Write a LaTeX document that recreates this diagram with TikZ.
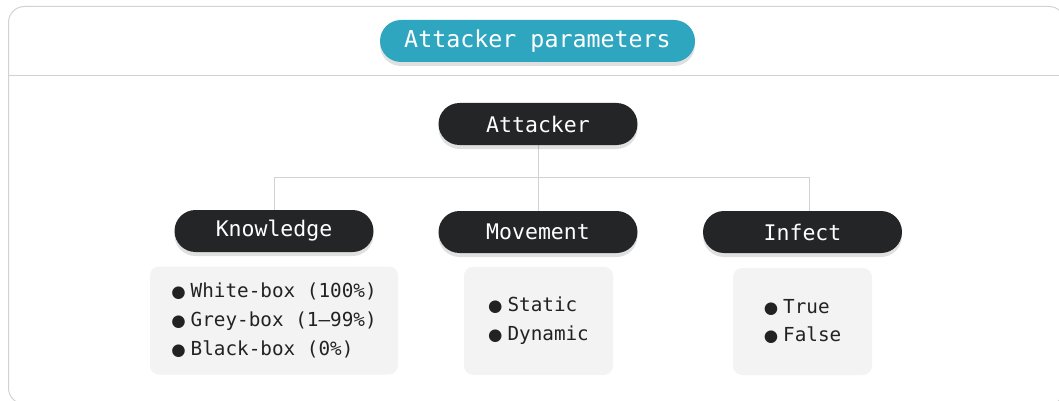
\documentclass[tikz,border=0pt]{standalone}
\usepackage{fontspec}
\setmainfont{DejaVu Sans Mono}
\newfontfamily\symf{DejaVu Sans}
\usetikzlibrary{shadows,backgrounds}
\definecolor{tealpill}{HTML}{2FA6BF}
\definecolor{pilldark}{HTML}{242527}
\definecolor{boxgrey}{HTML}{F3F3F3}
\definecolor{linegrey}{HTML}{D2D2D2}
\definecolor{textdark}{HTML}{222222}
\newcommand{\mybullet}{{\symf\fontsize{16.5}{16.5}\selectfont ●}\hspace{5pt}}
\begin{document}
\begin{tikzpicture}[x=1pt,y=-1pt,
  pill/.style={fill=pilldark, text=white, rounded corners=21pt,
    minimum width=199pt, minimum height=42pt, inner sep=0pt,
    font=\fontsize{21.5}{26}\selectfont,
    drop shadow={shadow xshift=0pt, shadow yshift=-4pt, opacity=0.12, fill=black}},
  titlepill/.style={pill, fill=tealpill, minimum width=315pt,
    font=\fontsize{23.3}{28}\selectfont},
  listbox/.style={fill=boxgrey, rounded corners=9pt, inner sep=0pt,
    align=left, text=textdark, font=\fontsize{19.3}{28.7}\selectfont},
  conn/.style={draw=linegrey, line width=1pt},
  frame/.style={draw=linegrey, line width=1pt}
]
\path[use as bounding box] (0,0) rectangle (1059,401);
\draw[frame, rounded corners=16pt] (8.5,6.5) rectangle (1065,404);
\draw[frame] (8.5,76) -- (1059,76);

\node[titlepill] (title) at (537.5,41) {Attacker parameters};
\node[pill] (att) at (538,124) {Attacker};
\node[pill] (know) at (274,231) {Knowledge};
\node[pill] (mov) at (538,232) {Movement};
\node[pill] (inf) at (802.5,232) {Infect};

\coordinate (busL) at (274,177);
\coordinate (busR) at (809,177);
\begin{scope}[on background layer]
\draw[conn] (att.south) -- (att.south |- busL);
\draw[conn] (know.north) |- (busR) -- ([xshift=6.5pt]inf.north);
\draw[conn] (mov.north) -- (mov.north |- busL);
\end{scope}

\node[listbox, minimum width=248pt, minimum height=108pt] (klist) at (274,320.5)
  {\mybullet White-box (100\%)\\\mybullet Grey-box (1–99\%)\\\mybullet Black-box (0\%)};
\node[listbox, minimum width=149pt, minimum height=108pt] (mlist) at (538.5,320.8)
  {\mybullet Static\\\mybullet Dynamic};
\node[listbox, minimum width=139pt, minimum height=107pt] (ilist) at (802.5,321.5)
  {\mybullet True\\\mybullet False};
\end{tikzpicture}
\end{document}
